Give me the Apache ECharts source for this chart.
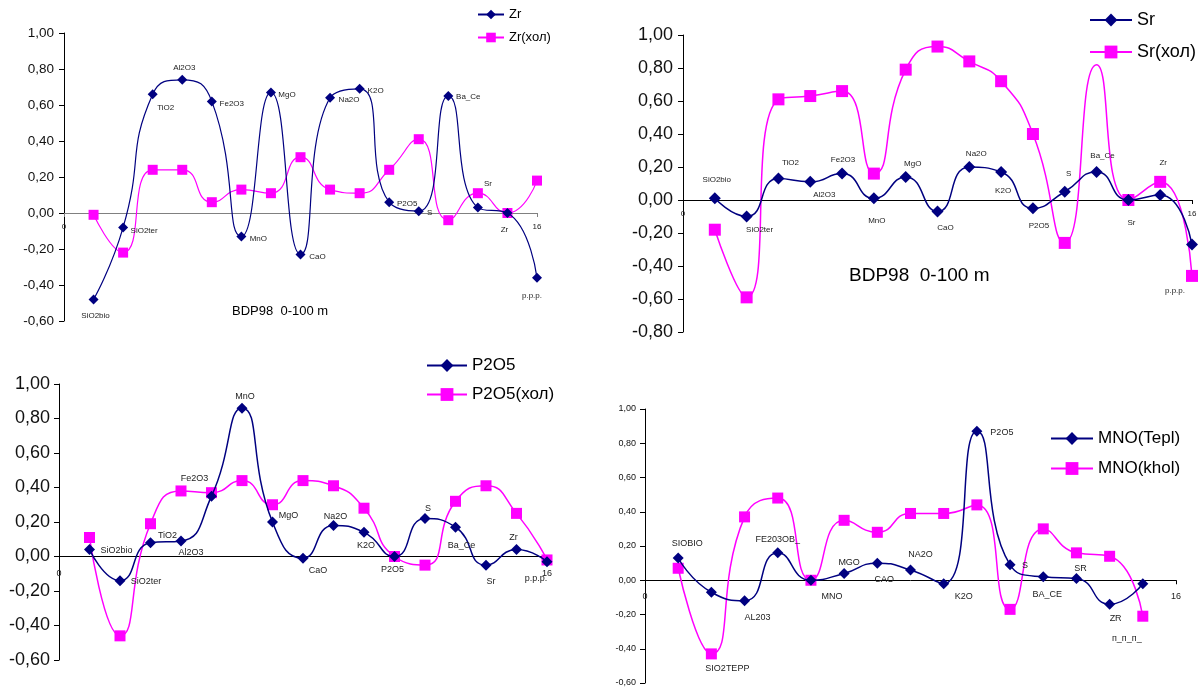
<!DOCTYPE html>
<html><head><meta charset="utf-8">
<script src="https://cdn.jsdelivr.net/npm/echarts@6/dist/echarts.min.js"></script>
<style>html,body{margin:0;padding:0;background:#fff}#c{width:1200px;height:693px}</style>
</head><body><div id="c"></div>
<script>
// ---------- DATA ----------
const catsOx = ['SiO2bio','SiO2ter','TiO2','Al2O3','Fe2O3','MnO','MgO','CaO','Na2O','K2O','P2O5','S','Ba_Ce','Sr','Zr','p.p.p.'];
const catsMno = ['SIOBIO','SIO2TEPP','AL203','FE203OB_','MNO','MGO','CAO','NA2O','K2O','P2O5','S','BA_CE','SR','ZR','п_п_п_'];

const zrTepl = [-0.48,-0.08,0.66,0.74,0.62,-0.13,0.67,-0.23,0.64,0.69,0.06,0.01,0.65,0.03,0.00,-0.36];
const zrKhol = [-0.01,-0.22,0.24,0.24,0.06,0.13,0.11,0.31,0.13,0.11,0.24,0.41,-0.04,0.11,0.00,0.18];

const srTepl = [0.01,-0.10,0.13,0.11,0.16,0.01,0.14,-0.07,0.20,0.17,-0.05,0.05,0.17,0.00,0.03,-0.27];
const srKhol = [-0.18,-0.59,0.61,0.63,0.66,0.16,0.79,0.93,0.84,0.72,0.40,-0.26,0.82,0.00,0.11,-0.46];

const p2o5Tepl = [0.04,-0.14,0.08,0.09,0.35,0.86,0.20,-0.01,0.18,0.14,0.00,0.22,0.17,-0.05,0.04,-0.03];
const p2o5Khol = [0.11,-0.46,0.19,0.38,0.37,0.44,0.30,0.44,0.41,0.28,0.00,-0.05,0.32,0.41,0.25,-0.02];

const mnoTepl = [0.13,-0.07,-0.12,0.16,0.00,0.04,0.10,0.06,-0.02,0.87,0.09,0.02,0.01,-0.14,-0.02];
const mnoKhol = [0.07,-0.43,0.37,0.48,0.00,0.35,0.28,0.39,0.39,0.44,-0.17,0.30,0.16,0.14,-0.21];

const titleText = 'BDP98  0-100 m';
const xMin = 0, xMax = 16;
const yMins = [-0.6, -0.8, -0.6, -0.6];
const yMax = 1;

// ---------- LAYOUT ----------
const grids = [
  { left: 64, top: 33, width: 473, height: 288 },
  { left: 683, top: 35, width: 509, height: 297 },
  { left: 59, top: 384, width: 488, height: 276 },
  { left: 645, top: 409, width: 531, height: 274 }
];

// label offsets from the point (px)
const offA = [[2,16],[21,3],[13,14],[2,-12],[20,2],[17,2],[16,2],[17,2],[19,2],[16,2],[18,2],[11,2],[20,1],[10,-24],[-3,17],[-5,18]];
const offB = [[2,-19],[13,13],[12,-16],[14,13],[1,-14],[3,22],[7,-13],[8,16],[7,-13],[2,19],[6,18],[4,-18],[6,-16],[3,23],[3,-32],[-17,46]];
const offC = [[27,1],[26,1],[17,-7],[10,12],[-17,-18],[3,-12],[16,-6],[15,12],[2,-9],[2,13],[-2,13],[3,-10],[6,18],[5,16],[-3,-12],[-11,17]];
const offD = [[9,-14],[16,76],[13,17],[0,-13],[21,16],[5,-11],[7,16],[10,-15],[20,13],[25,1],[15,1],[4,18],[4,-10],[6,14],[-16,55]];

const FONT = '"Liberation Sans", Arial, sans-serif';
const NAVY = '#000080', MAG = '#FF00FF';

const fmtY = v => v.toFixed(2).replace('.', ',');

function mkData(vals, offs, hideIdx) {
  return vals.map((v, i) => {
    const it = { value: [i + 1, v] };
    if (offs) it.label = { offset: offs[i] };
    if (hideIdx !== undefined && hideIdx === i) it.symbol = 'none';
    return it;
  });
}

function xAx(gi, color, fs, margin) {
  const g = grids[gi], mn = yMins[gi];
  // place the category axis on the value 0 of the y scale
  const off = -g.height * (0 - mn) / (yMax - mn);
  return {
    gridIndex: gi, type: 'value', min: xMin, max: xMax, interval: 16,
    position: 'bottom', offset: off,
    axisLine: { onZero: false, lineStyle: { color: color, width: 1 } },
    axisTick: { show: true, length: 4, lineStyle: { color: color } },
    axisLabel: { fontSize: fs, color: '#222', fontFamily: FONT, margin: margin },
    splitLine: { show: false }
  };
}
function yAx(gi, fs, margin) {
  return {
    gridIndex: gi, type: 'value', min: yMins[gi], max: yMax, interval: 0.2,
    axisLine: { show: true, onZero: false, lineStyle: { color: '#000', width: 1 } },
    axisTick: { show: true, length: 5, lineStyle: { color: '#000' } },
    axisLabel: { fontSize: fs, color: '#111', fontFamily: FONT, margin: margin, formatter: fmtY },
    splitLine: { show: false }
  };
}
function ser(name, gi, data, cats, color, symbol, sSize, lw, labFs) {
  return {
    type: 'line', name: name, xAxisIndex: gi, yAxisIndex: gi, data: data,
    smooth: 0.55, clip: false, symbol: symbol, symbolSize: sSize,
    lineStyle: { color: color, width: lw }, itemStyle: { color: color },
    label: cats ? {
      show: true, position: 'inside', align: 'center', verticalAlign: 'middle',
      formatter: p => cats[p.dataIndex], fontSize: labFs, color: '#222', fontFamily: FONT
    } : { show: false },
    emphasis: { disabled: true }, animation: false, z: color === NAVY ? 3 : 2
  };
}
function leg(names, left, top, iw, ih, gap, fs) {
  return {
    data: names, left: left, top: top, orient: 'vertical', padding: 0,
    itemWidth: iw, itemHeight: ih, itemGap: gap, selectedMode: false,
    textStyle: { fontSize: fs, fontFamily: FONT, color: '#000', lineHeight: ih }
  };
}

const chart = echarts.init(document.getElementById('c'), null, { renderer: 'canvas' });
chart.setOption({
  backgroundColor: '#fff',
  animation: false,
  title: [
    { text: titleText, left: 232, top: 305, padding: 0, textStyle: { fontSize: 13, fontWeight: 'normal', fontFamily: FONT, color: '#000' } },
    { text: titleText, left: 849, top: 266, padding: 0, textStyle: { fontSize: 19, fontWeight: 'normal', fontFamily: FONT, color: '#000' } }
  ],
  legend: [
    leg(['Zr', 'Zr(хол)'], 477, 8, 26, 12, 10, 13),
    leg(['Sr', 'Sr(хол)'], 1089, 11, 42, 16, 14, 18),
    leg(['P2O5', 'P2O5(хол)'], 426, 357, 40, 16, 12, 17),
    leg(['MNO(Tepl)', 'MNO(khol)'], 1050, 430, 42, 16, 13, 17)
  ],
  grid: grids,
  xAxis: [
    xAx(0, '#808080', 8, 10),
    xAx(1, '#000', 8, 10),
    xAx(2, '#000', 9, 13),
    xAx(3, '#000', 9, 12)
  ],
  yAxis: [
    yAx(0, 13.5, 10),
    yAx(1, 18, 10),
    yAx(2, 18, 9),
    yAx(3, 9, 9)
  ],
  series: [
    ser('Zr(хол)', 0, mkData(zrKhol), null, MAG, 'rect', 10, 1.2),
    ser('Zr', 0, mkData(zrTepl, offA), catsOx, NAVY, 'diamond', 10, 1.2, 8),
    ser('Sr(хол)', 1, mkData(srKhol, null, 12), null, MAG, 'rect', 12, 1.5),
    ser('Sr', 1, mkData(srTepl, offB), catsOx, NAVY, 'diamond', 12, 1.5, 8),
    ser('P2O5(хол)', 2, mkData(p2o5Khol), null, MAG, 'rect', 11, 1.5),
    ser('P2O5', 2, mkData(p2o5Tepl, offC), catsOx, NAVY, 'diamond', 11, 1.5, 9),
    ser('MNO(khol)', 3, mkData(mnoKhol), null, MAG, 'rect', 11, 1.5),
    ser('MNO(Tepl)', 3, mkData(mnoTepl, offD), catsMno, NAVY, 'diamond', 11, 1.5, 9)
  ]
});
</script></body></html>
